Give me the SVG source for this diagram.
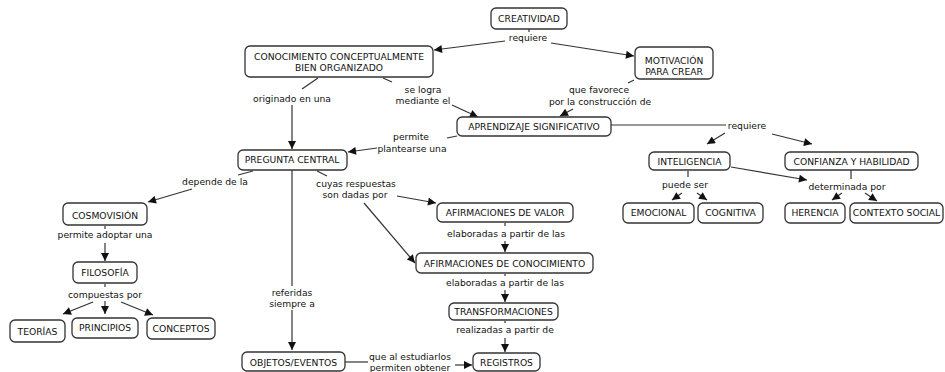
<svg xmlns="http://www.w3.org/2000/svg" width="945" height="372" viewBox="0 0 945 372">
<defs>
<style>
.n rect{fill:#fff;stroke:#333;stroke-width:1.3}
text{font-family:"DejaVu Sans","Liberation Sans",sans-serif;font-size:9.2px;fill:#111;text-anchor:middle}
#links line{stroke:#333;stroke-width:1.2}
#links line.a{marker-end:url(#ah)}
</style>
<marker id="ah" viewBox="0 0 10 10" refX="10" refY="5" markerWidth="9" markerHeight="8" orient="auto" markerUnits="userSpaceOnUse"><path d="M0,0 L10,5 L0,10 z" fill="#111"/></marker>
</defs>
<rect width="945" height="372" fill="#fff"/>
<g id="links">
<line x1="529" y1="29" x2="529" y2="32"/>
<line class="a" x1="505" y1="41" x2="434" y2="50"/>
<line class="a" x1="551" y1="43" x2="634" y2="56"/>
<line x1="634" y1="80" x2="628" y2="83"/>
<line class="a" x1="573" y1="109" x2="560" y2="116"/>
<line x1="383" y1="78" x2="392" y2="82"/>
<line class="a" x1="452" y1="105" x2="478" y2="117"/>
<line x1="318" y1="78" x2="302" y2="89"/>
<line class="a" x1="292" y1="105" x2="292" y2="149"/>
<line x1="457" y1="136" x2="447" y2="138"/>
<line class="a" x1="377" y1="148" x2="348" y2="152"/>
<line x1="253" y1="171" x2="238" y2="175"/>
<line class="a" x1="192" y1="189" x2="148" y2="202"/>
<line x1="105" y1="226" x2="105" y2="229"/>
<line class="a" x1="105" y1="243" x2="105" y2="261"/>
<line x1="105" y1="284" x2="105" y2="287"/>
<line class="a" x1="93" y1="302" x2="63" y2="314"/>
<line class="a" x1="105" y1="301" x2="105" y2="314"/>
<line class="a" x1="121" y1="302" x2="153" y2="315"/>
<line x1="292" y1="170" x2="292" y2="286"/>
<line class="a" x1="292" y1="310" x2="292" y2="350"/>
<line x1="345" y1="362" x2="368" y2="362"/>
<line class="a" x1="455" y1="365" x2="472" y2="365"/>
<line x1="317" y1="171" x2="327" y2="176"/>
<line class="a" x1="397" y1="196" x2="436" y2="203"/>
<line class="a" x1="364" y1="203" x2="415" y2="263"/>
<line x1="505" y1="223" x2="505" y2="226"/>
<line class="a" x1="505" y1="241" x2="505" y2="252"/>
<line x1="505" y1="274" x2="505" y2="276"/>
<line class="a" x1="505" y1="290" x2="505" y2="302"/>
<line x1="505" y1="321" x2="505" y2="323"/>
<line class="a" x1="505" y1="338" x2="505" y2="352"/>
<line x1="611" y1="125" x2="726" y2="125"/>
<line class="a" x1="725" y1="133" x2="707" y2="144"/>
<line class="a" x1="772" y1="134" x2="812" y2="144"/>
<line x1="688" y1="171" x2="688" y2="177"/>
<line class="a" x1="682" y1="193" x2="672" y2="200"/>
<line class="a" x1="697" y1="193" x2="707" y2="200"/>
<line class="a" x1="731" y1="167" x2="807" y2="180"/>
<line x1="851" y1="170" x2="851" y2="179"/>
<line class="a" x1="842" y1="193" x2="832" y2="200"/>
<line class="a" x1="865" y1="193" x2="877" y2="201"/>
</g>
<g id="labels">
<text x="528" y="41">requiere</text>
<text x="599" y="93">que favorece</text>
<text x="600" y="105">por la construcción de</text>
<text x="423" y="92.5">se logra</text>
<text x="423" y="103.5">mediante el</text>
<text x="292" y="102">originado en una</text>
<text x="411" y="140">permite</text>
<text x="412" y="151.5">plantearse una</text>
<text x="215" y="185">depende de la</text>
<text x="356" y="186.5">cuyas respuestas</text>
<text x="355" y="197.5">son dadas por</text>
<text x="105" y="238">permite adoptar una</text>
<text x="105" y="298">compuestas por</text>
<text x="292" y="296">referidas</text>
<text x="292" y="306.5">siempre a</text>
<text x="410" y="360">que al estudiarlos</text>
<text x="410" y="371">permiten obtener</text>
<text x="506" y="237">elaboradas a partir de las</text>
<text x="505" y="286">elaboradas a partir de las</text>
<text x="505" y="333">realizadas a partir de</text>
<text x="747" y="129">requiere</text>
<text x="685" y="188">puede ser</text>
<text x="847" y="190">determinada por</text>
</g>
<g id="creatividad" class="n"><rect x="491" y="8" width="76" height="21" rx="5"/><text x="529" y="21.5">CREATIVIDAD</text></g>
<g id="conocimiento" class="n"><rect x="245" y="46" width="188" height="31" rx="5"/><text x="339" y="59.5">CONOCIMIENTO CONCEPTUALMENTE</text><text x="339" y="71">BIEN ORGANIZADO</text></g>
<g id="motivacion" class="n"><rect x="635" y="47" width="78" height="32" rx="5"/><text x="674" y="63.5">MOTIVACIÓN</text><text x="674" y="74.5">PARA CREAR</text></g>
<g id="aprendizaje" class="n"><rect x="457" y="117" width="154" height="19" rx="5"/><text x="534" y="129.5">APRENDIZAJE SIGNIFICATIVO</text></g>
<g id="pregunta" class="n"><rect x="238" y="150" width="109" height="20" rx="5"/><text x="292" y="162.5">PREGUNTA CENTRAL</text></g>
<g id="cosmovision" class="n"><rect x="63" y="203" width="84" height="22" rx="5"/><text x="105" y="218.5">COSMOVISIÓN</text></g>
<g id="filosofia" class="n"><rect x="73" y="262" width="64" height="21" rx="5"/><text x="105" y="276">FILOSOFÍA</text></g>
<g id="teorias" class="n"><rect x="10" y="320" width="55" height="22" rx="5"/><text x="37.5" y="334.5">TEORÍAS</text></g>
<g id="principios" class="n"><rect x="72" y="318" width="66" height="20" rx="5"/><text x="105" y="331">PRINCIPIOS</text></g>
<g id="conceptos" class="n"><rect x="147" y="318" width="68" height="21" rx="5"/><text x="181" y="331.5">CONCEPTOS</text></g>
<g id="objetos" class="n"><rect x="242" y="352" width="103" height="19" rx="5"/><text x="293.5" y="365.5">OBJETOS/EVENTOS</text></g>
<g id="registros" class="n"><rect x="473" y="353" width="67" height="18" rx="5"/><text x="506.5" y="365.5">REGISTROS</text></g>
<g id="afirm-valor" class="n"><rect x="437" y="203" width="136" height="19" rx="5"/><text x="505" y="215.5">AFIRMACIONES DE VALOR</text></g>
<g id="afirm-conoc" class="n"><rect x="416" y="253" width="177" height="20" rx="5"/><text x="504.5" y="266.5">AFIRMACIONES DE CONOCIMIENTO</text></g>
<g id="transformaciones" class="n"><rect x="449" y="303" width="109" height="17" rx="5"/><text x="503.5" y="314.5">TRANSFORMACIONES</text></g>
<g id="inteligencia" class="n"><rect x="649" y="152" width="81" height="18" rx="5"/><text x="689.5" y="164.5">INTELIGENCIA</text></g>
<g id="confianza" class="n"><rect x="785" y="152" width="133" height="18" rx="5"/><text x="851.5" y="164.5">CONFIANZA Y HABILIDAD</text></g>
<g id="emocional" class="n"><rect x="623" y="203" width="71" height="20" rx="5"/><text x="658.5" y="216">EMOCIONAL</text></g>
<g id="cognitiva" class="n"><rect x="698" y="203" width="65" height="20" rx="5"/><text x="730.5" y="216">COGNITIVA</text></g>
<g id="herencia" class="n"><rect x="785" y="203" width="60" height="20" rx="5"/><text x="815" y="216">HERENCIA</text></g>
<g id="contexto" class="n"><rect x="850" y="203" width="93" height="20" rx="5"/><text x="896.5" y="216">CONTEXTO SOCIAL</text></g>
</svg>
